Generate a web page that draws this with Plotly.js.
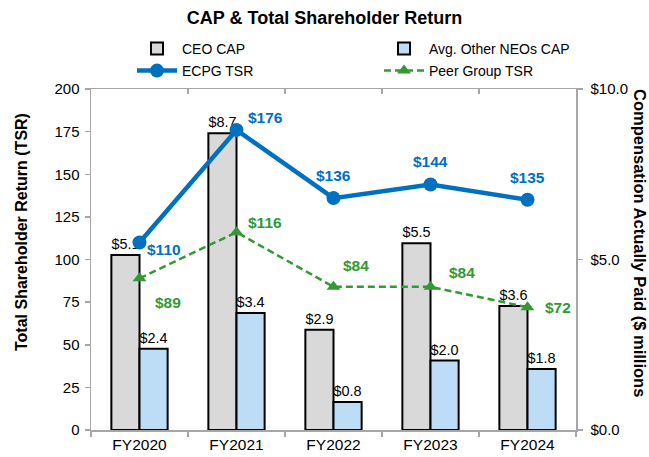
<!DOCTYPE html>
<html>
<head>
<meta charset="utf-8">
<script src="https://cdn.plot.ly/plotly-3.0.1.min.js"></script>
<style>html,body{margin:0;padding:0;background:#fff;}#chart{width:649px;height:457px;}</style>
</head>
<body>
<div id="chart"></div>
<script>
// ---- data ----
var categories = ["FY2020", "FY2021", "FY2022", "FY2023", "FY2024"];
var ceoCap = [5.13, 8.7, 2.94, 5.48, 3.64];      // $ millions
var neoCap = [2.38, 3.43, 0.82, 2.04, 1.79];     // $ millions
var ecpgTsr = [110, 176, 136, 144, 135];
var peerTsr = [89, 116, 84, 84, 72];
var leftTicks = [0, 25, 50, 75, 100, 125, 150, 175, 200];
var rightTicks = [0, 5, 10];
var rightTickText = ["$0.0", "$5.0", "$10.0"];

// ---- label offsets (pixels) ----
var ecpgOff = [[24, -7], [29, 12], [0, 23], [0, 23], [0, 22]];
var peerOff = [[28, -24], [28, 10], [22, 21], [31, 14], [30, 0]];

var FONT = "Liberation Sans, Arial, sans-serif";
var BLUE = "#0070c0";
var GREEN = "#339933";
var AXIS = "#a6a6a6";

var traces = [
  {
    type: "bar", name: "CEO CAP", x: categories, y: ceoCap,
    xaxis: "x", yaxis: "y", legend: "legend",
    marker: {color: "#d9d9d9", line: {color: "#000", width: 2}},
    text: ceoCap.map(function(v){return "$" + v.toFixed(1);}),
    textposition: "outside", cliponaxis: false,
    textfont: {family: FONT, size: 15, color: "#000"},
    hoverinfo: "skip"
  },
  {
    type: "bar", name: "Avg. Other NEOs CAP", x: categories, y: neoCap,
    xaxis: "x", yaxis: "y", legend: "legend2",
    marker: {color: "#bddcf5", line: {color: "#000", width: 2}},
    text: neoCap.map(function(v){return "$" + v.toFixed(1);}),
    textposition: "outside", cliponaxis: false,
    textfont: {family: FONT, size: 15, color: "#000"},
    hoverinfo: "skip"
  },
  {
    type: "scatter", mode: "lines+markers", name: "ECPG TSR", x: categories, y: ecpgTsr,
    xaxis: "x2", yaxis: "y2", legend: "legend3",
    line: {color: BLUE, width: 4.5},
    marker: {color: BLUE, size: 14, symbol: "circle"},
    cliponaxis: false, hoverinfo: "skip"
  },
  {
    type: "scatter", mode: "lines+markers", name: "Peer Group TSR", x: categories, y: peerTsr,
    xaxis: "x2", yaxis: "y2", legend: "legend4",
    line: {color: GREEN, width: 2.5, dash: "7px,4px"},
    marker: {color: GREEN, size: 12, symbol: "triangle-up"},
    cliponaxis: false, hoverinfo: "skip"
  }
];

var annotations = [];
ecpgTsr.forEach(function(v, i){
  annotations.push({
    x: categories[i], y: v, xref: "x2", yref: "y2", text: "<b>$" + v + "</b>",
    showarrow: false, xshift: ecpgOff[i][0], yshift: ecpgOff[i][1],
    font: {family: FONT, size: 15.5, color: BLUE}
  });
});
peerTsr.forEach(function(v, i){
  annotations.push({
    x: categories[i], y: v, xref: "x2", yref: "y2", text: "<b>$" + v + "</b>",
    showarrow: false, xshift: peerOff[i][0], yshift: peerOff[i][1],
    font: {family: FONT, size: 15.5, color: GREEN}
  });
});
annotations.push({
  xref: "paper", yref: "paper", x: (21 - 91) / 485, y: (430 - 232) / 341,
  xanchor: "center", yanchor: "middle",
  text: "<b>Total Shareholder Return (TSR)</b>",
  textangle: -90, showarrow: false,
  font: {family: FONT, size: 16, color: "#000"}
});
annotations.push({
  xref: "paper", yref: "paper", x: (640 - 91) / 485, y: (430 - 243) / 341,
  xanchor: "center", yanchor: "middle",
  text: "<b>Compensation Actually Paid ($ millions</b>",
  textangle: 90, showarrow: false,
  font: {family: FONT, size: 16.5, color: "#000"}
});

function legendAt(px, py) {
  return {
    orientation: "v", xref: "container", yref: "container",
    x: px / 649, xanchor: "left", y: 1 - py / 457, yanchor: "middle",
    itemwidth: 40,
    font: {family: FONT, size: 14, color: "#000"},
    bgcolor: "rgba(0,0,0,0)", borderwidth: 0
  };
}

var layout = {
  width: 649, height: 457,
  margin: {l: 91, r: 73, t: 89, b: 27, autoexpand: false},
  paper_bgcolor: "#fff", plot_bgcolor: "#fff",
  font: {family: FONT, size: 14, color: "#000"},
  title: {
    text: "<b>CAP & Total Shareholder Return</b>",
    font: {family: FONT, size: 18, color: "#000"},
    x: 0.5, xref: "container", xanchor: "center",
    y: 1 - 18/457, yref: "container", yanchor: "middle"
  },
  showlegend: true,
  legend: legendAt(132, 49),
  legend2: legendAt(379, 49),
  legend3: legendAt(132, 71),
  legend4: legendAt(379, 71),
  barmode: "group", bargap: 0.42, bargroupgap: 0,
  xaxis: {
    type: "category", categoryarray: categories, categoryorder: "array",
    range: [-0.5, 4.5],
    showline: true, linecolor: AXIS, linewidth: 1.5,
    ticks: "outside", tickson: "boundaries", ticklen: 5, tickcolor: AXIS, tickwidth: 1.5,
    showgrid: false, zeroline: false,
    tickfont: {family: FONT, size: 15.5, color: "#000"}
  },
  xaxis2: {
    type: "category", categoryarray: categories, categoryorder: "array",
    range: [-0.5, 4.5],
    overlaying: "x", side: "top",
    showline: true, linecolor: AXIS, linewidth: 1.5,
    ticks: "inside", tickson: "boundaries", ticklen: 5, tickcolor: AXIS, tickwidth: 1.5,
    showticklabels: false, showgrid: false, zeroline: false
  },
  yaxis: {
    side: "right", range: [0, 10],
    tickvals: rightTicks, ticktext: rightTickText,
    showline: true, linecolor: AXIS, linewidth: 1.5,
    ticks: "outside", ticklen: 5, tickcolor: AXIS, tickwidth: 1.5,
    ticklabelstandoff: 5,
    showgrid: false, zeroline: false,
    tickfont: {family: FONT, size: 15, color: "#000"}
  },
  yaxis2: {
    overlaying: "y", side: "left", range: [0, 200],
    tickvals: leftTicks,
    showline: true, linecolor: AXIS, linewidth: 1.5,
    ticks: "outside", ticklen: 5, tickcolor: AXIS, tickwidth: 1.5,
    ticklabelstandoff: 2,
    showgrid: false, zeroline: false,
    tickfont: {family: FONT, size: 15, color: "#000"}
  },
  annotations: annotations
};

Plotly.newPlot("chart", traces, layout, {displayModeBar: false, staticPlot: true});
</script>
</body>
</html>
